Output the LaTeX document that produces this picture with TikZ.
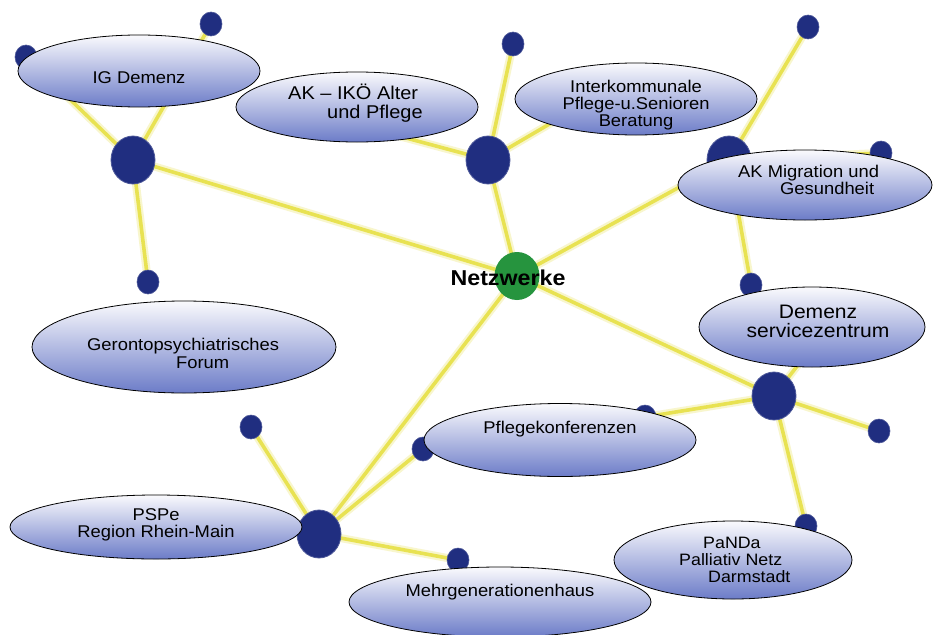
\documentclass[tikz,border=0pt]{standalone}
\usepackage{fontspec}
\setmainfont{Liberation Sans}[FakeStretch=1.08]
\usetikzlibrary{shapes.geometric,backgrounds}
\definecolor{navy}{RGB}{32,46,128}
\definecolor{hubgreen}{RGB}{38,148,62}
\definecolor{linkc}{RGB}{232,226,82}
\definecolor{haloc}{RGB}{248,246,205}
\definecolor{bubtop}{RGB}{250,250,253}
\definecolor{bubmid}{RGB}{200,206,236}
\definecolor{bubbot}{RGB}{108,124,200}
\tikzset{
  link/.style={draw=linkc, line width=3.6pt},
  halo/.style={draw=haloc, line width=8pt},
  hub/.style={ellipse, fill=navy, draw=navy!80, line width=0.8pt, minimum width=44pt, minimum height=48pt, inner sep=0pt},
  dotn/.style={ellipse, fill=navy, draw=navy!80, line width=0.6pt, minimum width=22pt, minimum height=24pt, inner sep=0pt},
  bubble/.style={ellipse, draw=black, line width=0.8pt, top color=bubtop, middle color=bubmid, bottom color=bubbot, inner sep=0pt},
  lbl/.style={inner sep=0pt, font=\fontsize{17}{17}\selectfont}
}
\begin{document}
\begin{tikzpicture}[x=1pt,y=-1pt]
\useasboundingbox (0,0) rectangle (933,634);
% hubs and dots
\node[ellipse, fill=hubgreen, minimum width=45pt, minimum height=48pt, inner sep=0pt] (ctr) at (517,276) {};
\node[hub] (h1) at (133,160) {};
\node[hub] (h2) at (488,160) {};
\node[hub] (h3) at (729,160) {};
\node[hub] (h4) at (774,396) {};
\node[hub] (h5) at (319,534) {};
\node[dotn] (d1) at (26,57) {};
\node[dotn] (d2) at (211,24) {};
\node[dotn] (d3) at (148,282) {};
\node[dotn] (d4) at (513,44) {};
\node[dotn] (d5) at (808,27) {};
\node[dotn] (d6) at (881,153) {};
\node[dotn] (d7) at (751,285) {};
\node[dotn] (d8) at (879,431) {};
\node[dotn] (d9) at (645,417) {};
\node[dotn] (d10) at (423,449) {};
\node[dotn] (d11) at (251,427) {};
\node[dotn] (d12) at (458,560) {};
\node[dotn] (d13) at (806,526) {};
\coordinate (c1) at (395,135);
\coordinate (c2) at (570,112);
\coordinate (c3) at (808,352);
% connectors
\begin{scope}[on background layer]
\fill[white] (0,0) rectangle (933,634);
\foreach \a/\b in {ctr/h1,ctr/h2,ctr/h3,ctr/h4,ctr/h5,h1/d1,h1/d2,h1/d3,h2/d4,h2/c1,h2/c2,h3/d5,h3/d6,h3/d7,h4/c3,h4/d8,h4/d9,h4/d13,h5/d10,h5/d11,h5/d12}
  \draw[halo] (\a.center) -- (\b.center);
\foreach \a/\b in {ctr/h1,ctr/h2,ctr/h3,ctr/h4,ctr/h5,h1/d1,h1/d2,h1/d3,h2/d4,h2/c1,h2/c2,h3/d5,h3/d6,h3/d7,h4/c3,h4/d8,h4/d9,h4/d13,h5/d10,h5/d11,h5/d12}
  \draw[link] (\a.center) -- (\b.center);
\end{scope}
% bubbles
\node[bubble, minimum width=242pt, minimum height=72pt] (b1) at (139,71) {};
\node[bubble, minimum width=242pt, minimum height=70pt] (b2) at (357,107) {};
\node[bubble, minimum width=242pt, minimum height=72pt] (b3) at (636,99) {};
\node[bubble, minimum width=254pt, minimum height=70pt] (b4) at (805,185) {};
\node[bubble, minimum width=226pt, minimum height=80pt] (b5) at (812,327) {};
\node[bubble, minimum width=304pt, minimum height=92pt] (b6) at (184,347) {};
\node[bubble, minimum width=292pt, minimum height=64pt] (b7) at (156,527) {};
\node[bubble, minimum width=272pt, minimum height=73pt] (b8) at (560,440) {};
\node[bubble, minimum width=302pt, minimum height=70pt] (b9) at (500,602) {};
\node[bubble, minimum width=238pt, minimum height=78pt] (b10) at (733,560) {};
% labels
\node[lbl, anchor=base] (t1) at (139,83) {IG Demenz};
\node[lbl, anchor=west, align=left, font=\fontsize{18.5}{19}\selectfont] (t2) at (288,103.5) {AK – IKÖ Alter\\\hspace*{39pt}und Pflege};
\node[lbl, align=center] (t3) at (636,104.7) {Interkommunale\\Pflege-u.Senioren\\Beratung};
\node[lbl, anchor=west, align=left] (t4) at (738,180.4) {AK Migration und\\\hspace*{42pt}Gesundheit};
\node[lbl, align=center, font=\fontsize{19.5}{19}\selectfont] (t5) at (818,321.5) {Demenz\\servicezentrum};
\node[lbl, anchor=west, align=left, font=\fontsize{17}{18}\selectfont] (t6) at (87,353) {Gerontopsychiatrisches\\\hspace*{89pt}Forum};
\node[lbl, align=center] (t7) at (156,524.4) {PSPe\\Region Rhein-Main};
\node[lbl, anchor=base] (t8) at (560,433) {Pflegekonferenzen};
\node[lbl, anchor=base] (t9) at (500,596) {Mehrgenerationenhaus};
\node[lbl, anchor=west, align=left, font=\fontsize{16.5}{17}\selectfont] (t10) at (679,560) {\hspace*{24pt}PaNDa\\Palliativ Netz\\\hspace*{29pt}Darmstadt};
\node[inner sep=0pt, anchor=base, font=\fontsize{21.5}{22}\selectfont\bfseries] (t0) at (508,285) {Netzwerke};
\end{tikzpicture}
\end{document}
